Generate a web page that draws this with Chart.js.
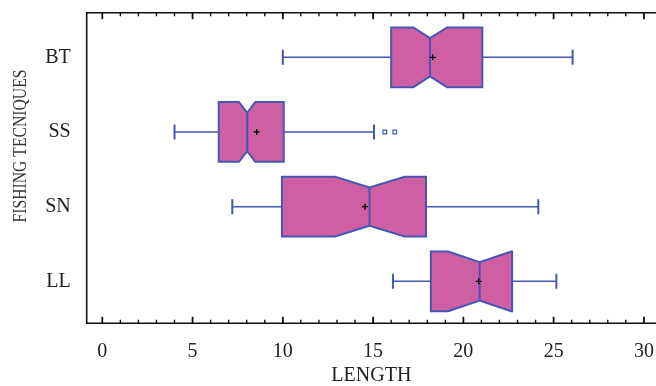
<!DOCTYPE html>
<html>
<head>
    <meta charset="UTF-8">
    <title>Length by fishing technique</title>
    <script src="https://cdn.jsdelivr.net/npm/chart.js"></script>
    <style>
        body { margin: 0; background: #fff; }
        #wrap { width: 656px; height: 386px; position: relative; }
    </style>
</head>
<body>
    <div id="wrap"><canvas id="boxChart"></canvas></div>

    <script>
        // values
        const categories = ['BT', 'SS', 'SN', 'LL'];
        const whiskerMin = [10.0, 4.0, 7.2, 16.1];
        const q1 = [16.0, 6.45, 9.95, 18.2];
        const median = [18.15, 8.03, 14.8, 20.9];
        const q3 = [21.05, 10.05, 17.93, 22.7];
        const whiskerMax = [26.05, 15.05, 24.15, 25.15];
        const means = [18.3, 8.55, 14.55, 20.85];
        const notchLow = [17.23, 7.57, 12.89, 19.16];
        const notchHigh = [19.1, 8.47, 16.75, 22.65];
        const outlierValues = [15.65, 16.2];
        const outlierGroup = ['SS', 'SS'];
        const xTicks = [0, 5, 10, 15, 20, 25, 30];

        const boxFill = '#ce5fa2';
        const boxLine = '#4657b3';
        const serif = '"Liberation Serif", "Times New Roman", serif';

        // no extra room for labels, the plot box is fixed
        function noPad(s) {
            s.paddingTop = 0;
            s.paddingBottom = 0;
            s.paddingLeft = 0;
            s.paddingRight = 0;
        }

        // draws notched boxes + whiskers behind the points
        const boxPlugin = {
            id: 'notchedBoxes',
            beforeDatasetsDraw(chart) {
                const ctx = chart.ctx;
                const xs = chart.scales.x;
                const ys = chart.scales.y;
                ctx.save();
                categories.forEach((c, i) => {
                    const yc = ys.getPixelForValue(i);
                    const h = Math.abs(ys.getPixelForValue(i + 0.4) - yc);
                    const d = h * 0.36;
                    const top = yc - h, bot = yc + h;
                    const px = v => xs.getPixelForValue(v);
                    const nl = Math.max(notchLow[i], q1[i]);
                    const nh = Math.min(notchHigh[i], q3[i]);

                    // whiskers
                    ctx.strokeStyle = boxLine;
                    ctx.lineWidth = 1.5;
                    ctx.beginPath();
                    ctx.moveTo(px(whiskerMin[i]), yc);
                    ctx.lineTo(px(q1[i]), yc);
                    ctx.moveTo(px(q3[i]), yc);
                    ctx.lineTo(px(whiskerMax[i]), yc);
                    ctx.stroke();
                    ctx.lineWidth = 2;
                    ctx.beginPath();
                    ctx.moveTo(px(whiskerMin[i]), yc - 7.5);
                    ctx.lineTo(px(whiskerMin[i]), yc + 7.5);
                    ctx.moveTo(px(whiskerMax[i]), yc - 7.5);
                    ctx.lineTo(px(whiskerMax[i]), yc + 7.5);
                    ctx.stroke();

                    // notched box
                    ctx.beginPath();
                    ctx.moveTo(px(q1[i]), top);
                    ctx.lineTo(px(nl), top);
                    ctx.lineTo(px(median[i]), top + d);
                    ctx.lineTo(px(nh), top);
                    ctx.lineTo(px(q3[i]), top);
                    ctx.lineTo(px(q3[i]), bot);
                    ctx.lineTo(px(nh), bot);
                    ctx.lineTo(px(median[i]), bot - d);
                    ctx.lineTo(px(nl), bot);
                    ctx.lineTo(px(q1[i]), bot);
                    ctx.closePath();
                    ctx.fillStyle = boxFill;
                    ctx.fill();
                    ctx.lineWidth = 2;
                    ctx.stroke();

                    // median line
                    ctx.beginPath();
                    ctx.moveTo(px(median[i]), top + d);
                    ctx.lineTo(px(median[i]), bot - d);
                    ctx.stroke();
                });
                ctx.restore();
            },
            afterDraw(chart) {
                const ctx = chart.ctx;
                const xs = chart.scales.x;
                const a = chart.chartArea;
                ctx.save();
                // frame (right side runs off the picture)
                ctx.strokeStyle = '#111';
                ctx.lineWidth = 1.6;
                ctx.beginPath();
                ctx.moveTo(a.right + 2, a.top);
                ctx.lineTo(a.left, a.top);
                ctx.lineTo(a.left, a.bottom);
                ctx.lineTo(a.right + 2, a.bottom);
                ctx.stroke();

                // inward ticks on top and bottom, minor every 1
                for (let v = 0; v <= 30; v++) {
                    const x = xs.getPixelForValue(v);
                    const major = v % 5 === 0;
                    const len = major ? 6.5 : 3.5;
                    ctx.lineWidth = major ? 1.8 : 1.4;
                    ctx.beginPath();
                    ctx.moveTo(x, a.top);
                    ctx.lineTo(x, a.top + len);
                    ctx.moveTo(x, a.bottom);
                    ctx.lineTo(x, a.bottom - len);
                    ctx.stroke();
                }

                // y axis title (glyphs a bit taller than wide, like the original)
                ctx.fillStyle = '#333';
                ctx.font = '16px ' + serif;
                ctx.textAlign = 'center';
                ctx.textBaseline = 'middle';
                ctx.translate(21.5, 146);
                ctx.rotate(-Math.PI / 2);
                ctx.scale(0.98, 1.18);
                ctx.fillText('FISHING TECNIQUES', 0, 0);
                ctx.restore();
            }
        };

        const meanPoints = categories.map((c, i) => ({ x: means[i], y: i }));
        const outlierPoints = outlierValues.map((v, k) => ({ x: v, y: categories.indexOf(outlierGroup[k]) }));

        new Chart(document.getElementById('boxChart'), {
            type: 'scatter',
            data: {
                datasets: [
                    {
                        data: meanPoints,
                        pointStyle: 'cross',
                        radius: 3,
                        borderColor: '#000',
                        borderWidth: 1.3
                    },
                    {
                        data: outlierPoints,
                        pointStyle: 'rect',
                        radius: 2.6,
                        borderColor: boxLine,
                        backgroundColor: '#fff',
                        borderWidth: 1.2
                    }
                ]
            },
            options: {
                responsive: true,
                maintainAspectRatio: false,
                animation: false,
                layout: { autoPadding: false, padding: { top: 12.7, left: 0, right: 0, bottom: 0 } },
                plugins: {
                    legend: { display: false },
                    tooltip: { enabled: false }
                },
                scales: {
                    x: {
                        type: 'linear',
                        min: -0.864,
                        max: 30.67,
                        afterBuildTicks: s => { s.ticks = xTicks.map(v => ({ value: v })); },
                        afterFit: s => { s.height = 62.7; noPad(s); },
                        grid: { display: false, drawTicks: false },
                        border: { display: false },
                        ticks: {
                            padding: 16,
                            color: '#222',
                            maxRotation: 0,
                            font: { family: serif, size: 20 }
                        },
                        title: {
                            display: true,
                            text: 'LENGTH',
                            color: '#222',
                            padding: { top: 0, bottom: 0 },
                            font: { family: serif, size: 20, lineHeight: 1 }
                        }
                    },
                    y: {
                        type: 'linear',
                        reverse: true,
                        min: -0.597,
                        max: 3.562,
                        afterBuildTicks: s => { s.ticks = categories.map((c, i) => ({ value: i })); },
                        afterFit: s => { s.width = 86.7; noPad(s); },
                        grid: { display: false, drawTicks: false },
                        border: { display: false },
                        ticks: {
                            padding: 16,
                            color: '#222',
                            font: { family: serif, size: 20 },
                            callback: v => categories[v]
                        }
                    }
                }
            },
            plugins: [boxPlugin]
        });
    </script>
</body>
</html>
